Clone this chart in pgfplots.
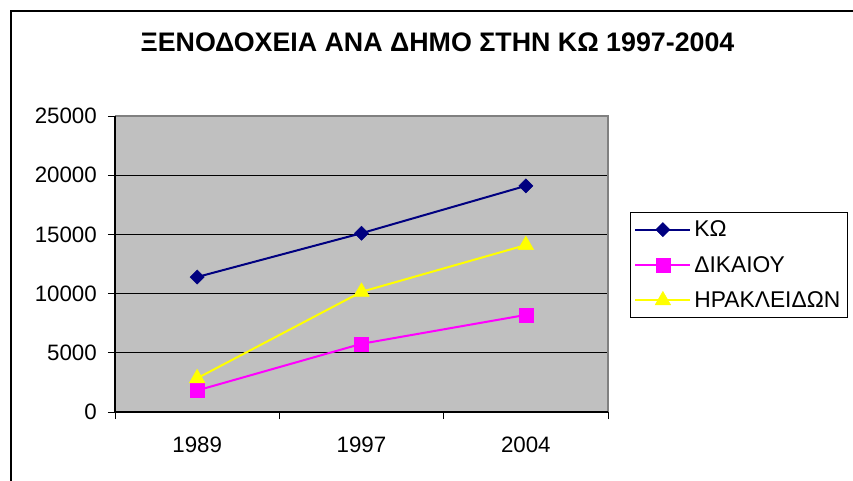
\documentclass[border=0pt]{standalone}
\usepackage{fontspec}
\setmainfont{Liberation Sans}
\usepackage{pgfplots}
\pgfplotsset{compat=1.18}
\definecolor{plotbg}{HTML}{C0C0C0}
\definecolor{bordergray}{HTML}{808080}
\definecolor{kocol}{HTML}{000080}
\definecolor{dikcol}{HTML}{FF00FF}
\definecolor{ircol}{HTML}{FFFF00}
\begin{document}
\begin{tikzpicture}
\useasboundingbox (-115bp,-69bp) rectangle (738bp,412bp);
\draw[line width=1.5bp] (-104bp,-75bp) -- (-104bp,401bp) -- (745bp,401bp);
\node[font=\bfseries\fontsize{26.8bp}{30bp}\selectfont, anchor=base] at (322.5bp,360bp) {ΞΕΝΟΔΟΧΕΙΑ ΑΝΑ ΔΗΜΟ ΣΤΗΝ ΚΩ 1997-2004};
\begin{axis}[
  at={(0,0)}, anchor=south west,
  scale only axis, width=493bp, height=296bp,
  xmin=0.5, xmax=3.5, ymin=0, ymax=25000,
  xtick={1,2,3}, xticklabels={1989,1997,2004},
  minor xtick={0.5,1.5,2.5,3.5},
  ytick={0,5000,10000,15000,20000,25000},
  scaled y ticks=false,
  xtick pos=bottom, ytick pos=left,
  tick align=outside, major tick length=7bp, minor tick length=7bp,
  every major x tick/.style={draw=none},
  every minor x tick/.style={black, line width=0.8bp},
  every major y tick/.style={black, line width=0.8bp},
  ymajorgrids, grid style={black, line width=0.8bp},
  axis line style={draw=none},
  axis background/.style={fill=plotbg},
  tick label style={font=\fontsize{22.3bp}{25bp}\selectfont},
  /pgf/number format/assume math mode=true,
  /pgf/number format/1000 sep={},
  yticklabel style={anchor=east, inner sep=0pt, xshift=-11bp},
  xticklabel style={anchor=north, inner sep=0pt, yshift=-18bp},
  legend style={at={(1.0446,0.6757)}, anchor=north west, draw=black, line width=0.8bp,
    font=\fontsize{22.8bp}{25bp}\selectfont, inner xsep=4bp, inner ysep=8bp,
    nodes={inner xsep=3bp, inner ysep=0.5bp}, row sep=17bp},
  legend cell align=left,
  legend image code/.code={\draw[line width=2bp, mark repeat=2, mark phase=2] plot coordinates {(0bp,0bp) (27.5bp,0bp) (55bp,0bp)};},
  clip=false,
]
\addplot[kocol, line width=2bp, mark=square*, mark size=5bp, mark options={rotate=45, line width=0.5bp}]
  coordinates {(1,11400) (2,15100) (3,19100)};
\addlegendentry{ΚΩ}
\addplot[dikcol, line width=2bp, mark=square*, mark size=7bp, mark options={line width=0.5bp}]
  coordinates {(1,1820) (2,5760) (3,8200)};
\addlegendentry{ΔΙΚΑΙΟΥ}
\addplot[ircol, line width=2bp, mark=triangle*, mark size=9bp, mark options={line width=0.5bp}]
  coordinates {(1,2850) (2,10150) (3,14100)};
\addlegendentry{ΗΡΑΚΛΕΙΔΩΝ}
\draw[bordergray, line width=2bp] (rel axis cs:0,1) -- (rel axis cs:1,1) -- (rel axis cs:1,0);
\draw[black, line width=1.2bp] (rel axis cs:0,1) -- (rel axis cs:0,0) -- (rel axis cs:1,0);
\end{axis}
\end{tikzpicture}
\end{document}
